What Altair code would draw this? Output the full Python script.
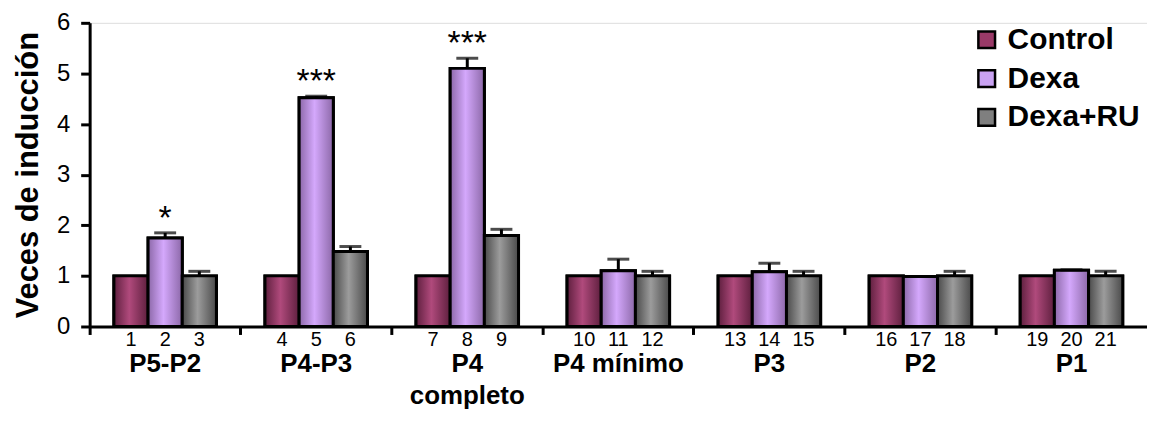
import altair as alt
import pandas as pd

groups = ["P5-P2", "P4-P3", "P4\ncompleto", "P4 mínimo", "P3", "P2", "P1"]
series = ["Control", "Dexa", "Dexa+RU"]
control_vals = [1.0, 1.0, 1.0, 1.0, 1.0, 1.0, 1.0]
dexa_vals = [1.75, 4.52, 5.10, 1.10, 1.08, 0.99, 1.11]
dexaru_vals = [1.0, 1.48, 1.80, 1.0, 1.0, 1.0, 1.0]
control_err = [0, 0, 0, 0, 0, 0, 0]
dexa_err = [0.10, 0.03, 0.20, 0.23, 0.17, 0.0, 0.01]
dexaru_err = [0.09, 0.10, 0.12, 0.09, 0.09, 0.09, 0.09]
dexa_stars = ["*", "***", "***", "", "", "", ""]

rows = []
n = 1
for gi, g in enumerate(groups):
    for si, (s, vals, errs) in enumerate(zip(series,
                                             [control_vals, dexa_vals, dexaru_vals],
                                             [control_err, dexa_err, dexaru_err])):
        rows.append({
            "group": g, "series": s, "value": vals[gi], "err": errs[gi],
            "top": vals[gi] + errs[gi], "num": str(n),
            "star": dexa_stars[gi] if s == "Dexa" else "",
        })
        n += 1
df = pd.DataFrame(rows)

FONT = "Liberation Sans"
solid = ["#9a3a68", "#c9a2f2", "#7f7f7f"]
grad_stops = {
    "Control": ("#5e1f3e", "#b04a7c"),
    "Dexa": ("#8c68a8", "#d4a8fc"),
    "Dexa+RU": ("#4a4a4a", "#9c9c9c"),
}

x_enc = alt.X("group:N", sort=groups, title=None,
              scale=alt.Scale(paddingInner=0, paddingOuter=0),
              axis=alt.Axis(labels=False, bandPosition=0, tickSize=8, tickWidth=3,
                            tickColor="black", domainColor="black", domainWidth=3))
xo_enc = alt.XOffset("series:N", sort=series,
                     scale=alt.Scale(paddingInner=0, paddingOuter=0.71))
y_enc = alt.Y("value:Q", title="Veces de inducción",
              scale=alt.Scale(domain=[0, 6], nice=False),
              axis=alt.Axis(values=[0, 1, 2, 3, 4, 5, 6], grid=False, tickSize=9,
                            tickWidth=3, tickColor="black", domainColor="black",
                            domainWidth=3, labelFont=FONT, labelFontSize=24,
                            labelColor="black", labelPadding=11,
                            titleFont=FONT, titleFontSize=31, titleFontWeight="bold",
                            titleColor="black", titlePadding=12))

base = alt.Chart(df)

bars = base.mark_bar(stroke="black", strokeWidth=3).encode(
    x=x_enc, xOffset=xo_enc, y=y_enc,
    color=alt.Color("series:N", sort=series,
                    scale=alt.Scale(domain=series, range=solid),
                    legend=alt.Legend(orient="none", legendX=886, legendY=2, title=None,
                                      symbolType="square", symbolSize=280,
                                      symbolStrokeColor="black", symbolStrokeWidth=2.5,
                                      labelFont=FONT, labelFontSize=30,
                                      labelFontWeight="bold", labelColor="black",
                                      labelOffset=6, rowPadding=9)),
)

layers = [bars]
for s in series:
    dark, light = grad_stops[s]
    g = alt.Gradient(gradient="linear",
                     stops=[alt.GradientStop(color=dark, offset=0),
                            alt.GradientStop(color=light, offset=0.45),
                            alt.GradientStop(color=dark, offset=1)],
                     x1=0, x2=1, y1=0, y2=0)
    layers.append(
        base.transform_filter(alt.datum.series == s)
        .mark_bar(fill=g, stroke="black", strokeWidth=3)
        .encode(x=alt.X("group:N", sort=groups), xOffset=alt.XOffset("series:N", sort=series),
                y="value:Q")
    )

err_base = base.transform_filter(alt.datum.err > 0)
rules = err_base.mark_rule(color="black", strokeWidth=3).encode(
    x=alt.X("group:N", sort=groups), xOffset=alt.XOffset("series:N", sort=series),
    y="value:Q", y2="top:Q")
caps = err_base.mark_tick(color="black", thickness=3, size=22, orient="horizontal").encode(
    x=alt.X("group:N", sort=groups), xOffset=alt.XOffset("series:N", sort=series),
    y="top:Q")

stars = base.transform_filter(alt.datum.star != "").mark_text(
    font=FONT, fontSize=34, color="black", baseline="alphabetic", dy=-4).encode(
    x=alt.X("group:N", sort=groups), xOffset=alt.XOffset("series:N", sort=series),
    y="top:Q", text="star:N")

nums = base.mark_text(font=FONT, fontSize=20, color="black", baseline="alphabetic",
                      dy=20).encode(
    x=alt.X("group:N", sort=groups), xOffset=alt.XOffset("series:N", sort=series),
    y=alt.datum(0), text="num:N")

glabels = base.transform_filter(alt.datum.series == "Dexa").mark_text(
    font=FONT, fontSize=26, fontWeight="bold", color="black", baseline="alphabetic",
    dy=46, lineBreak="\n", lineHeight=32).encode(
    x=alt.X("group:N", sort=groups), y=alt.datum(0), text="group:N")

chart = alt.layer(*layers, rules, caps, stars, nums, glabels).properties(
    width=1062, height=305,
    autosize=alt.AutoSizeParams(type="none"),
    padding={"left": 82, "top": 14, "right": 0, "bottom": 86},
).configure_view(stroke=None).configure(background="white")

chart.save("out.html", embed_options={"renderer": "svg", "actions": False})
